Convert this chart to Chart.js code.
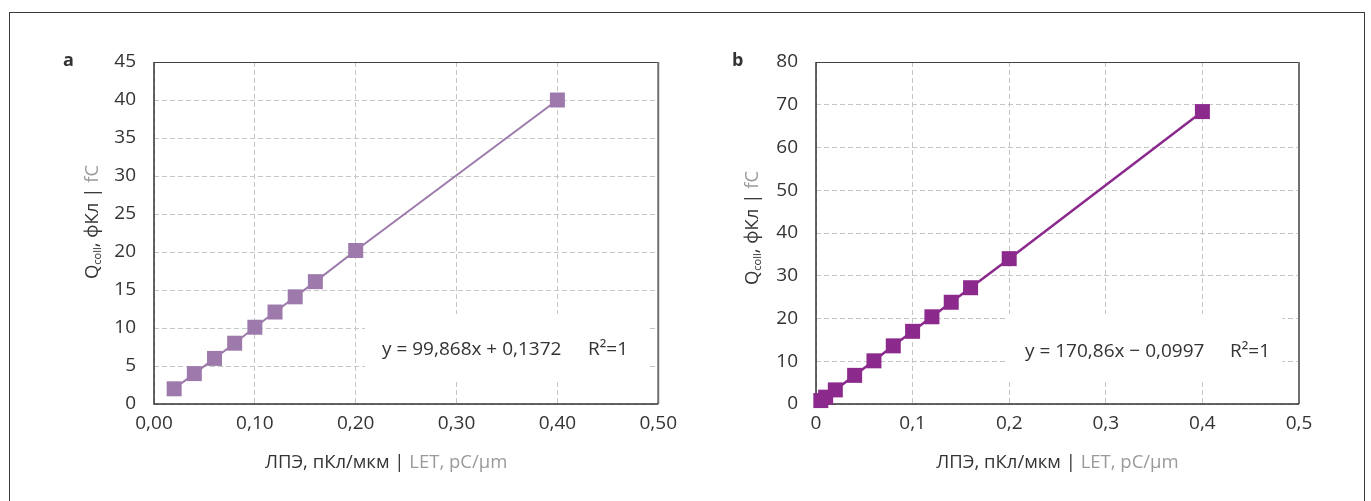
<!DOCTYPE html>
<html>
<head>
<meta charset="utf-8">
<title>Q coll vs LET</title>
<script src="https://cdn.jsdelivr.net/npm/chart.js"></script>
<style>
  body { margin: 0; background: #fff; width: 1371px; height: 501px; overflow: hidden; position: relative; }
  .frame { position: absolute; left: 9px; top: 12px; width: 1356px; height: 520px; border: 1px solid #3a3a3a; box-sizing: border-box; }
  .box { position: absolute; top: 0; height: 501px; }
  #boxA { left: 0; width: 685px; }
  #boxB { left: 685px; width: 686px; }
</style>
</head>
<body>
<div class="frame"></div>
<div class="box" id="boxA"><canvas id="chartA" width="685" height="501"></canvas></div>
<div class="box" id="boxB"><canvas id="chartB" width="686" height="501"></canvas></div>

<script>
// panel a
const letA = [0.02, 0.04, 0.06, 0.08, 0.10, 0.12, 0.14, 0.16, 0.20, 0.40];
const qA = [2.0, 4.0, 6.0, 8.0, 10.1, 12.1, 14.1, 16.1, 20.2, 40.0];
const xTicksA = ['0,00', '0,10', '0,20', '0,30', '0,40', '0,50'];
const yTicksA = ['0', '5', '10', '15', '20', '25', '30', '35', '40', '45'];

// panel b
const letB = [0.005, 0.01, 0.02, 0.04, 0.06, 0.08, 0.10, 0.12, 0.14, 0.16, 0.20, 0.40];
const qB = [0.8, 1.6, 3.3, 6.7, 10.1, 13.6, 17.0, 20.4, 23.8, 27.2, 34.0, 68.4];
const xTicksB = ['0', '0,1', '0,2', '0,3', '0,4', '0,5'];
const yTicksB = ['0', '10', '20', '30', '40', '50', '60', '70', '80'];

const FONT = '"Open Sans", "Noto Sans", sans-serif';
const DARK = '#333';
const GREY = '#9a9a9a';

// draws a run of text pieces: [text, color, size, yShift]
function drawPieces(ctx, pieces, x, y) {
  let total = 0;
  pieces.forEach(p => {
    ctx.font = p[2] + 'px ' + FONT;
    total += ctx.measureText(p[0]).width;
  });
  let cx = x - total / 2;
  pieces.forEach(p => {
    ctx.font = p[2] + 'px ' + FONT;
    ctx.fillStyle = p[1];
    ctx.fillText(p[0], cx, y + (p[3] || 0));
    cx += ctx.measureText(p[0]).width;
  });
}

const panelDecor = {
  id: 'panelDecor',
  beforeDatasetsDraw(chart, args, o) {
    const ca = chart.chartArea, ctx = chart.ctx;
    ctx.save();
    // white box behind the fit equation
    ctx.fillStyle = '#fff';
    ctx.fillRect(ca.left + o.boxL, ca.bottom - o.boxB, ca.right - o.boxR - ca.left - o.boxL, o.boxB - o.boxBot);
    // plot frame
    ctx.strokeStyle = '#444';
    ctx.lineWidth = 1;
    ctx.beginPath();
    ctx.moveTo(ca.left, ca.top + 0.5); ctx.lineTo(ca.right, ca.top + 0.5);
    ctx.stroke();
    ctx.strokeStyle = '#707070';
    ctx.lineWidth = 2;
    ctx.beginPath();
    ctx.moveTo(ca.right, ca.top); ctx.lineTo(ca.right, ca.bottom);
    ctx.stroke();
    ctx.strokeStyle = '#333';
    ctx.lineWidth = 1.5;
    ctx.beginPath();
    ctx.moveTo(ca.left, ca.top); ctx.lineTo(ca.left, ca.bottom); ctx.lineTo(ca.right, ca.bottom);
    ctx.stroke();
    ctx.restore();
  },
  afterDraw(chart, args, o) {
    const ca = chart.chartArea, ctx = chart.ctx;
    ctx.save();
    ctx.textBaseline = 'middle';
    ctx.textAlign = 'left';

    // panel letter
    ctx.font = 'bold 18px ' + FONT;
    ctx.fillStyle = DARK;
    ctx.fillText(o.letter, ca.left - o.letterDx, ca.top - 1);

    // fit equation
    ctx.font = '19px ' + FONT;
    ctx.fillStyle = DARK;
    ctx.fillText(o.equation, ca.left + o.eqX, ca.bottom - o.eqY);
    ctx.fillText('R²=1', ca.left + o.r2X, ca.bottom - o.eqY);

    // x title
    drawPieces(ctx, [['ЛПЭ, пКл/мкм | ', DARK, 18.5], ['LET, pC/μm', GREY, 18.5]],
      (ca.left + ca.right) / 2 + o.xTitleDx, ca.bottom + 59);

    // y title, rotated
    ctx.translate(ca.left - o.yTitleDx, (ca.top + ca.bottom) / 2 + o.yTitleDy);
    ctx.rotate(-Math.PI / 2);
    drawPieces(ctx, [['Q', DARK, 18.5], ['coll', DARK, 11, 5], [', фКл | ', DARK, 18.5], ['fC', GREY, 18.5]], 0, 0);
    ctx.restore();
  }
};

function makeChart(id, xs, ys, color, lineW, yMax, yStep, xTicks, yTicks, axisW, padRight, deco) {
  const pts = xs.map((x, i) => ({ x: x, y: ys[i] }));
  return new Chart(document.getElementById(id), {
    type: 'scatter',
    data: {
      datasets: [{
        data: pts,
        showLine: true,
        borderColor: color,
        borderWidth: lineW,
        backgroundColor: color,
        pointStyle: 'rect',
        pointRadius: 10.6,
        pointHoverRadius: 10.6,
        pointBorderWidth: 0,
        clip: false
      }]
    },
    options: {
      responsive: false,
      animation: false,
      layout: { padding: { top: 62, right: padRight, left: 0, bottom: 0 } },
      plugins: { legend: { display: false }, tooltip: { enabled: false }, panelDecor: deco },
      scales: {
        x: {
          type: 'linear', min: 0, max: 0.5,
          afterFit: s => { s.height = 97; },
          ticks: { stepSize: 0.1, padding: 8, color: DARK, font: { size: 19, family: FONT },
                   callback: (v, i) => xTicks[i] },
          grid: { color: '#c6c6c6', lineWidth: 1, drawTicks: false },
          border: { display: false, dash: [5, 3] }
        },
        y: {
          type: 'linear', min: 0, max: yMax,
          afterFit: s => { s.width = axisW; },
          ticks: { stepSize: yStep, padding: 18, color: DARK, font: { size: 19, family: FONT },
                   callback: (v, i) => yTicks[i] },
          grid: { color: '#c6c6c6', lineWidth: 1, drawTicks: false },
          border: { display: false, dash: [5, 3] }
        }
      }
    },
    plugins: [panelDecor]
  });
}

makeChart('chartA', letA, qA, '#9d7aab', 2, 45, 5, xTicksA, yTicksA, 154, 26, {
  letter: 'a', letterDx: 91,
  equation: 'y = 99,868x + 0,1372', eqX: 228, r2X: 434, eqY: 54,
  boxL: 211, boxR: 11, boxB: 90, boxBot: 24,
  xTitleDx: -20, yTitleDx: 61, yTitleDy: -11
});

makeChart('chartB', letB, qB, '#8b298d', 2.5, 80, 10, xTicksB, yTicksB, 131, 72, {
  letter: 'b', letterDx: 84,
  equation: 'y = 170,86x − 0,0997', eqX: 209, r2X: 414, eqY: 52,
  boxL: 189, boxR: 17, boxB: 90, boxBot: 22,
  xTitleDx: 0, yTitleDx: 63, yTitleDy: -5
});
</script>
</body>
</html>
